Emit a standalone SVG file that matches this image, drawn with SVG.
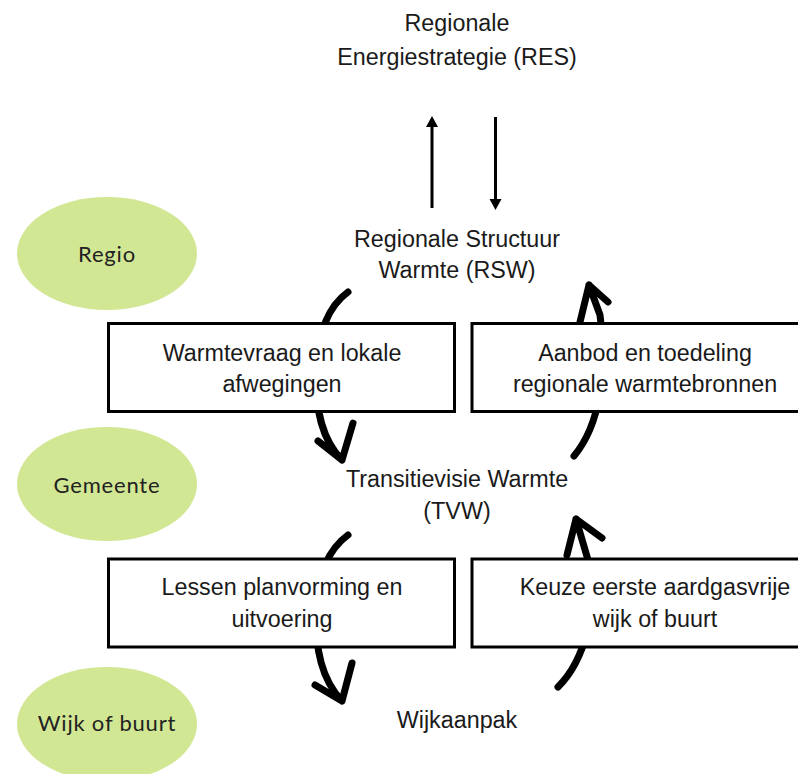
<svg xmlns="http://www.w3.org/2000/svg" width="798" height="774" viewBox="0 0 798 774">
<style>
.t{font-family:"Liberation Sans",Arial,sans-serif;font-size:23.3px;fill:#1a1a1a;text-anchor:middle}
.e{fill:#d2e793}
.el{font-family:Lato,"Noto Sans",sans-serif;font-size:22px;fill:#222;text-anchor:middle;letter-spacing:0.8px}
.box{fill:#fff;stroke:#000;stroke-width:3}
.cv{fill:none;stroke:#000;stroke-width:7;stroke-linecap:round;stroke-linejoin:round}
.st{fill:none;stroke:#000;stroke-width:3}
</style>
<rect width="798" height="774" fill="#fff"/>
<g id="levels">
<g id="regio"><ellipse class="e" cx="107" cy="253.5" rx="90" ry="56.5"/><text class="el" x="107" y="262">Regio</text></g>
<g id="gemeente"><ellipse class="e" cx="107" cy="484" rx="90" ry="57"/><text class="el" x="107" y="493">Gemeente</text></g>
<g id="wijk"><ellipse class="e" cx="107" cy="724" rx="90" ry="57"/><text class="el" x="107" y="731">Wijk of buurt</text></g>
</g>
<g id="connectors">
<line class="st" x1="432" y1="208" x2="432" y2="125"/>
<polygon points="432,116 426,127 438,127"/>
<line class="st" x1="495.5" y1="117" x2="495.5" y2="201"/>
<polygon points="495.5,210 489.5,199 501.5,199"/>
<path class="cv" d="M348,292 C330,305 318,330 316,370 C315,410 322,440 342,460 M342,460 L318,441 M342,460 L353,423"/>
<path class="cv" d="M574,456 C600,425 608,370 600,315 L589,285 M589,285 L580,322 M589,285 L608,302"/>
<path class="cv" d="M348,535 C330,548 318,570 316,610 C315,650 322,680 342,701 M342,701 L315,685 M342,701 L352,663"/>
<path class="cv" d="M558,687 C585,660 598,610 588,560 L576,519 M576,519 L567,555 M576,519 L602,538"/>
</g>
<g id="res"><text class="t" x="457" y="31">Regionale</text><text class="t" x="457" y="65">Energiestrategie (RES)</text></g>
<g id="rsw"><text class="t" x="457" y="247">Regionale Structuur</text><text class="t" x="457" y="278">Warmte (RSW)</text></g>
<g id="tvw"><text class="t" x="457" y="487">Transitievisie Warmte</text><text class="t" x="457" y="519">(TVW)</text></g>
<g id="wijkaanpak"><text class="t" x="457" y="728">Wijkaanpak</text></g>
<g id="box1"><rect class="box" x="108.5" y="323.5" width="346" height="88"/><text class="t" x="282" y="361">Warmtevraag en lokale</text><text class="t" x="282" y="392">afwegingen</text></g>
<g id="box2"><rect class="box" x="472" y="323.5" width="340" height="88"/><text class="t" x="645" y="361">Aanbod en toedeling</text><text class="t" x="645" y="392">regionale warmtebronnen</text></g>
<g id="box3"><rect class="box" x="108.5" y="559" width="346" height="88"/><text class="t" x="282" y="595">Lessen planvorming en</text><text class="t" x="282" y="627">uitvoering</text></g>
<g id="box4"><rect class="box" x="472" y="559" width="340" height="88"/><text class="t" x="655" y="595">Keuze eerste aardgasvrije</text><text class="t" x="655" y="627">wijk of buurt</text></g>
</svg>
